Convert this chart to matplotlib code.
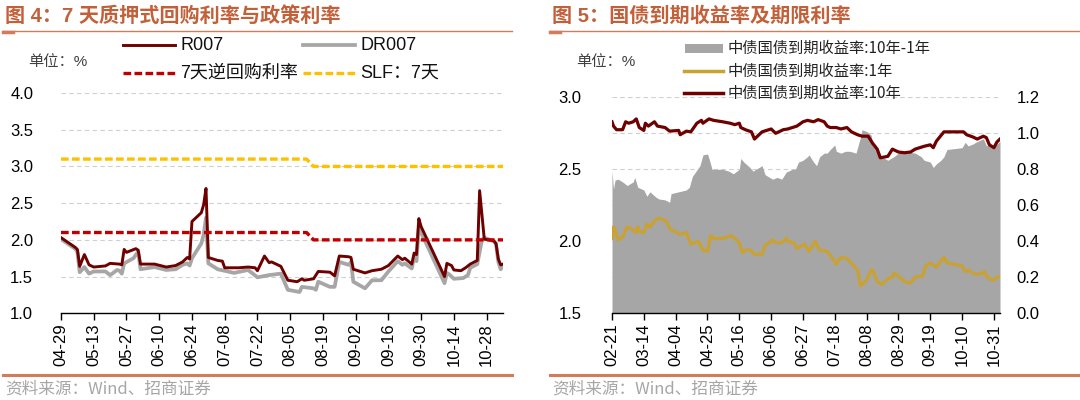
import pandas as pd
import matplotlib
matplotlib.use("Agg")
import matplotlib.pyplot as plt
import matplotlib.dates as mdates
from matplotlib.lines import Line2D
from matplotlib.patches import Rectangle

plt.rcParams['font.family'] = ['Liberation Sans', 'Noto Sans CJK SC', 'DejaVu Sans']

# ---------- 图4 data (2022) ----------
r007_dates = ['04-29', '05-05', '05-06', '05-07', '05-09', '05-11', '05-13', '05-18', '05-20', '05-24',
              '05-25', '05-26', '05-27', '05-31', '06-01', '06-02', '06-08', '06-13', '06-17', '06-20',
              '06-22', '06-23', '06-24', '06-28', '06-29', '06-30', '07-01', '07-05', '07-07', '07-08',
              '07-14', '07-18', '07-21', '07-22', '07-25', '07-27', '07-28', '08-01', '08-04', '08-08',
              '08-10', '08-11', '08-15', '08-17', '08-22', '08-24', '08-26', '08-30', '08-31', '09-01',
              '09-06', '09-09', '09-13', '09-16', '09-20', '09-22', '09-23', '09-26', '09-27', '09-28',
              '09-29', '09-30', '10-10', '10-11', '10-13', '10-14', '10-17', '10-19', '10-21', '10-24',
              '10-25', '10-27', '10-31', '11-01', '11-02', '11-03', '11-04']
r007 = [2.03, 1.90, 1.87, 1.64, 1.80, 1.66, 1.63, 1.645, 1.68, 1.67,
        1.66, 1.87, 1.83, 1.88, 1.86, 1.67, 1.67, 1.63, 1.65, 1.70,
        1.76, 1.74, 2.25, 2.37, 2.48, 2.70, 1.76, 1.72, 1.71, 1.62,
        1.62, 1.63, 1.62, 1.58, 1.78, 1.69, 1.70, 1.64, 1.45, 1.43,
        1.47, 1.45, 1.47, 1.57, 1.56, 1.51, 1.78, 1.77, 1.76, 1.60,
        1.55, 1.58, 1.60, 1.65, 1.78, 1.73, 1.75, 1.67, 1.82, 1.80,
        2.29, 2.18, 1.50, 1.68, 1.65, 1.59, 1.58, 1.62, 1.67, 1.72,
        2.67, 2.01, 1.99, 1.95, 1.74, 1.66, 1.67]

dr007_dates = ['04-29', '05-05', '05-06', '05-07', '05-09', '05-11', '05-13', '05-18', '05-20', '05-23',
               '05-24', '05-25', '05-26', '05-30', '06-01', '06-02', '06-08', '06-13', '06-17', '06-20',
               '06-22', '06-23', '06-24', '06-28', '06-29', '06-30', '07-01', '07-05', '07-12', '07-18',
               '07-22', '07-27', '08-01', '08-04', '08-09', '08-10', '08-15', '08-16', '08-17', '08-22',
               '08-24', '08-26', '08-30', '08-31', '09-01', '09-06', '09-09', '09-13', '09-16', '09-20',
               '09-22', '09-23', '09-26', '09-27', '09-28', '09-29', '09-30', '10-10', '10-11', '10-12',
               '10-14', '10-18', '10-20', '10-21', '10-24', '10-26', '10-27', '10-31', '11-01', '11-02',
               '11-03', '11-04']
dr007 = [2.01, 1.88, 1.84, 1.56, 1.63, 1.54, 1.57, 1.57, 1.52, 1.59,
         1.58, 1.54, 1.68, 1.75, 1.84, 1.60, 1.63, 1.59, 1.60, 1.66,
         1.68, 1.65, 1.75, 1.95, 2.07, 2.30, 1.68, 1.60, 1.55, 1.59,
         1.49, 1.52, 1.54, 1.32, 1.29, 1.36, 1.34, 1.32, 1.43, 1.36,
         1.36, 1.70, 1.66, 1.70, 1.43, 1.34, 1.45, 1.45, 1.57, 1.71,
         1.66, 1.68, 1.61, 1.77, 1.71, 2.16, 2.10, 1.41, 1.55, 1.53,
         1.47, 1.48, 1.52, 1.62, 1.67, 2.00, 2.03, 1.98, 1.95, 1.70,
         1.60, 1.65]

policy_dates = ['04-29', '08-12', '08-15', '11-04']
rrp7 = [2.1, 2.1, 2.0, 2.0]
slf7 = [3.1, 3.1, 3.0, 3.0]

# ---------- 图5 data (2022) ----------
y1_dates = ['02-21', '02-22', '02-23', '02-25', '02-28', '03-03', '03-07', '03-09', '03-10', '03-11',
            '03-14', '03-16', '03-17', '03-18', '03-22', '03-24', '03-29', '03-31', '04-01', '04-07',
            '04-11', '04-14', '04-19', '04-22', '04-25', '04-27', '04-29', '05-05', '05-11', '05-13',
            '05-16', '05-18', '05-20', '05-23', '05-26', '05-31', '06-02', '06-07', '06-09', '06-13',
            '06-16', '06-17', '06-21', '06-23', '06-28', '07-01', '07-05', '07-08', '07-13', '07-18',
            '07-19', '07-22', '07-26', '07-28', '08-02', '08-04', '08-08', '08-11', '08-12', '08-15',
            '08-18', '08-22', '08-25', '08-26', '08-30', '09-02', '09-06', '09-09', '09-14', '09-16',
            '09-19', '09-23', '09-28', '09-30', '10-10', '10-12', '10-14', '10-17', '10-20', '10-24',
            '10-25', '10-26', '10-28', '10-31', '11-02', '11-04']
y1 = [2.02, 2.10, 2.08, 2.01, 2.03, 2.10, 2.08, 2.06, 2.10, 2.07,
      2.06, 2.12, 2.11, 2.10, 2.15, 2.16, 2.14, 2.09, 2.08, 2.05,
      2.06, 1.98, 2.00, 1.94, 1.93, 2.04, 2.02, 2.02, 2.04, 2.02,
      1.99, 1.92, 1.94, 1.94, 1.91, 1.91, 1.97, 2.01, 1.99, 1.99,
      2.02, 2.00, 1.99, 1.95, 1.98, 1.93, 2.00, 1.94, 1.93, 1.86,
      1.84, 1.89, 1.88, 1.86, 1.80, 1.69, 1.73, 1.80, 1.80, 1.72,
      1.70, 1.74, 1.75, 1.78, 1.75, 1.72, 1.71, 1.75, 1.76, 1.83,
      1.85, 1.82, 1.89, 1.85, 1.83, 1.79, 1.80, 1.78, 1.77, 1.78,
      1.79, 1.76, 1.74, 1.73, 1.75, 1.755]

y10_dates = ['02-21', '02-22', '02-24', '02-28', '03-02', '03-04', '03-07', '03-09', '03-11', '03-14',
             '03-15', '03-17', '03-21', '03-23', '03-28', '03-31', '04-06', '04-07', '04-11', '04-14',
             '04-18', '04-21', '04-22', '04-26', '04-29', '05-05', '05-10', '05-13', '05-16', '05-17',
             '05-20', '05-24', '05-26', '05-27', '05-31', '06-06', '06-09', '06-14', '06-17', '06-23',
             '06-27', '06-30', '07-04', '07-07', '07-11', '07-13', '07-15', '07-19', '07-22', '07-26',
             '07-29', '08-02', '08-05', '08-09', '08-12', '08-15', '08-17', '08-22', '08-25', '08-29',
             '09-02', '09-06', '09-09', '09-15', '09-19', '09-21', '09-23', '09-28', '09-30', '10-11',
             '10-13', '10-17', '10-20', '10-24', '10-26', '10-28', '10-31', '11-02', '11-04']
y10 = [2.83, 2.80, 2.775, 2.775, 2.83, 2.82, 2.83, 2.85, 2.79, 2.77,
       2.82, 2.80, 2.83, 2.80, 2.79, 2.765, 2.77, 2.74, 2.765, 2.76,
       2.82, 2.84, 2.82, 2.85, 2.84, 2.83, 2.82, 2.81, 2.82, 2.79,
       2.775, 2.76, 2.71, 2.72, 2.76, 2.78, 2.75, 2.775, 2.78, 2.80,
       2.83, 2.84, 2.83, 2.845, 2.83, 2.80, 2.79, 2.79, 2.78, 2.79,
       2.76, 2.74, 2.73, 2.73, 2.68, 2.64, 2.58, 2.59, 2.64, 2.62,
       2.615, 2.62, 2.64, 2.66, 2.67, 2.65, 2.695, 2.76, 2.76, 2.76,
       2.74, 2.725, 2.71, 2.73, 2.72, 2.67, 2.65, 2.69, 2.71]

spread_dates = ['02-21', '02-22', '02-23', '02-25', '02-28', '03-03', '03-07', '03-08', '03-10', '03-14',
                '03-16', '03-18', '03-22', '03-24', '03-28', '03-31', '04-01', '04-06', '04-11', '04-13',
                '04-15', '04-18', '04-20', '04-22', '04-25', '04-26', '04-28', '05-05', '05-09', '05-12',
                '05-16', '05-17', '05-19', '05-23', '05-25', '05-31', '06-02', '06-07', '06-10', '06-13',
                '06-16', '06-20', '06-22', '06-24', '06-27', '06-30', '07-01', '07-04', '07-06', '07-08',
                '07-11', '07-13', '07-15', '07-18', '07-19', '07-22', '07-25', '07-28', '08-01', '08-02',
                '08-04', '08-05', '08-08', '08-11', '08-12', '08-15', '08-18', '08-22', '08-26', '08-29',
                '09-01', '09-05', '09-09', '09-13', '09-15', '09-19', '09-21', '09-23', '09-26', '09-28',
                '09-30', '10-10', '10-12', '10-14', '10-17', '10-19', '10-24', '10-26', '10-28', '10-31',
                '11-02', '11-04']
spread = [0.79, 0.69, 0.74, 0.745, 0.73, 0.71, 0.73, 0.755, 0.70, 0.685,
          0.65, 0.675, 0.645, 0.635, 0.63, 0.617, 0.665, 0.675, 0.685, 0.70,
          0.76, 0.796, 0.82, 0.88, 0.885, 0.86, 0.80, 0.80, 0.79, 0.775,
          0.80, 0.86, 0.84, 0.81, 0.79, 0.82, 0.77, 0.745, 0.755, 0.745,
          0.785, 0.80, 0.80, 0.84, 0.85, 0.87, 0.88, 0.84, 0.82, 0.87,
          0.89, 0.89, 0.91, 0.935, 0.90, 0.89, 0.90, 0.90, 0.89, 0.92,
          0.98, 1.02, 1.01, 0.99, 0.93, 0.91, 0.87, 0.85, 0.87, 0.89,
          0.90, 0.895, 0.89, 0.87, 0.85, 0.84, 0.81, 0.83, 0.85, 0.87,
          0.91, 0.92, 0.95, 0.93, 0.94, 0.95, 0.97, 0.93, 0.94, 0.92,
          0.94, 0.955]


def to_dt(days):
    return pd.to_datetime(['2022-' + d for d in days])


def fx(x):
    return x / 1080


def fy(y):
    return 1 - y / 400


C_TITLE = '#C2603A'
C_RULE = '#D27C5C'
C_R = '#6E0000'
C_GREY = '#A6A6A6'
C_RED = '#C00000'
C_YEL = '#FFC000'
C_GOLD = '#C9A232'
GRID = dict(color='#CFCFCF', lw=0.8, ls=(0, (4, 3)))
DASH = (2.3, 1.0)

fig = plt.figure(figsize=(10.8, 4), dpi=100)
fig.patch.set_facecolor('white')


def frame(x0, x1, title):
    fig.text(fx(x0 + 2), fy(16), title, fontsize=14.5, fontweight='bold', color=C_TITLE,
             family=['Liberation Sans', 'Noto Sans CJK SC'], va='center', ha='left')
    fig.add_artist(Line2D([fx(x0), fx(x1)], [fy(31), fy(31)], color=C_RULE, lw=1.0))
    fig.add_artist(Line2D([fx(x0), fx(x0 + 10)], [fy(32), fy(32)], color=C_RULE, lw=2.5))
    fig.add_artist(Line2D([fx(x0), fx(x1)], [fy(375), fy(375)], color=C_RULE, lw=2.2))
    fig.text(fx(x0 + 2), fy(389), '资料来源：Wind、招商证券', fontsize=12, color='#A6A6A6',
             va='center', ha='left', family=['Noto Sans CJK SC'])


def style_axis(ax):
    for s in ['top', 'right', 'left']:
        ax.spines[s].set_visible(False)
    ax.spines['bottom'].set_color('#000000')
    ax.spines['bottom'].set_linewidth(1.0)
    ax.tick_params(axis='x', direction='out', length=5, width=1, colors='black',
                   labelrotation=90, pad=2, labelsize=12)
    ax.tick_params(axis='y', length=0, labelsize=12)
    ax.xaxis.set_major_formatter(mdates.DateFormatter('%m-%d'))


# ---------------- left chart ----------------
frame(3, 512, '图 4：7 天质押式回购利率与政策利率')
ax1 = fig.add_axes([fx(61), fy(313.3), fx(503) - fx(61), (313.3 - 93) / 400])
ax1.plot(to_dt(dr007_dates), dr007, color=C_GREY, lw=2.7, zorder=3)
ax1.plot(to_dt(r007_dates), r007, color=C_R, lw=2.1, zorder=4)
ax1.plot(to_dt(policy_dates), rrp7, color=C_RED, lw=2.4, dashes=DASH, zorder=5)
ax1.plot(to_dt(policy_dates), slf7, color=C_YEL, lw=2.4, dashes=DASH, zorder=5)
ax1.set_ylim(1.0, 4.0)
ax1.set_yticks([1.0, 1.5, 2.0, 2.5, 3.0, 3.5, 4.0])
ax1.set_yticklabels(['%.1f' % v for v in ax1.get_yticks()])
ax1.set_xlim(pd.Timestamp('2022-04-29'), pd.Timestamp('2022-11-04'))
ax1.set_xticks(pd.date_range('2022-04-29', '2022-10-28', freq='14D'))
ax1.yaxis.grid(True, **GRID)
ax1.set_axisbelow(True)
style_axis(ax1)
ax1.tick_params(axis='y', pad=20)

fig.text(fx(28), fy(62), '单位：%', fontsize=11, color='#404040', va='center', ha='left')
leg1 = [(123, 45, C_R, 2.1, None, 'R007'), (303, 45, C_GREY, 2.7, None, 'DR007'),
        (123, 73, C_RED, 2.4, DASH, '7天逆回购利率'), (303, 73, C_YEL, 2.4, DASH, 'SLF：7天')]
for x0, y0, c, lw, ds, lab in leg1:
    ln = Line2D([fx(x0), fx(x0 + 52)], [fy(y0), fy(y0)], color=c, lw=lw)
    if ds:
        ln.set_dashes(ds)
    fig.add_artist(ln)
    fig.text(fx(x0 + 57), fy(y0), lab, fontsize=13, color='#111111', va='center', ha='left')

# ---------------- right chart ----------------
frame(550, 1080, '图 5：国债到期收益率及期限利率')
ax2 = fig.add_axes([fx(612), fy(313.3), fx(1000) - fx(612), (313.3 - 97.3) / 400])
axr = ax2.twinx()
axr.fill_between(to_dt(spread_dates), 0, spread, color=C_GREY, lw=0, zorder=2)
axr.set_ylim(0, 1.2)
axr.set_yticks([0.0, 0.2, 0.4, 0.6, 0.8, 1.0, 1.2])
axr.set_yticklabels(['%.1f' % v for v in axr.get_yticks()])
axr.yaxis.grid(True, **GRID)
axr.set_axisbelow(True)
for s in ['top', 'right', 'left', 'bottom']:
    axr.spines[s].set_visible(False)
axr.tick_params(axis='y', length=0, labelsize=12, pad=12)

ax2.set_zorder(axr.get_zorder() + 1)
ax2.patch.set_visible(False)
ax2.plot(to_dt(y1_dates), y1, color=C_GOLD, lw=2.3, zorder=3)
ax2.plot(to_dt(y10_dates), y10, color=C_R, lw=2.3, zorder=4)
ax2.set_ylim(1.5, 3.0)
ax2.set_yticks([1.5, 2.0, 2.5, 3.0])
ax2.set_yticklabels(['%.1f' % v for v in ax2.get_yticks()])
ax2.set_xlim(pd.Timestamp('2022-02-21'), pd.Timestamp('2022-11-04'))
ax2.set_xticks(pd.date_range('2022-02-21', '2022-10-31', freq='21D'))
style_axis(ax2)
ax2.tick_params(axis='y', pad=22)

fig.text(fx(576), fy(62), '单位：%', fontsize=11, color='#404040', va='center', ha='left')
fig.add_artist(Rectangle((fx(685), fy(53)), fx(723) - fx(685), (53 - 44) / 400,
                         transform=fig.transFigure, color=C_GREY, lw=0))
fig.text(fx(728), fy(48), '中债国债到期收益率:10年-1年', fontsize=11, color='#222222',
         va='center', ha='left', family=['Noto Sans CJK SC'])
for y0, c, lab in [(71, C_GOLD, '中债国债到期收益率:1年'), (93, C_R, '中债国债到期收益率:10年')]:
    fig.add_artist(Line2D([fx(684), fx(723)], [fy(y0), fy(y0)], color=c, lw=2.5))
    fig.text(fx(728), fy(y0), lab, fontsize=11, color='#222222', va='center', ha='left',
             family=['Noto Sans CJK SC'])

fig.savefig('out.png', dpi=100, facecolor='white')
